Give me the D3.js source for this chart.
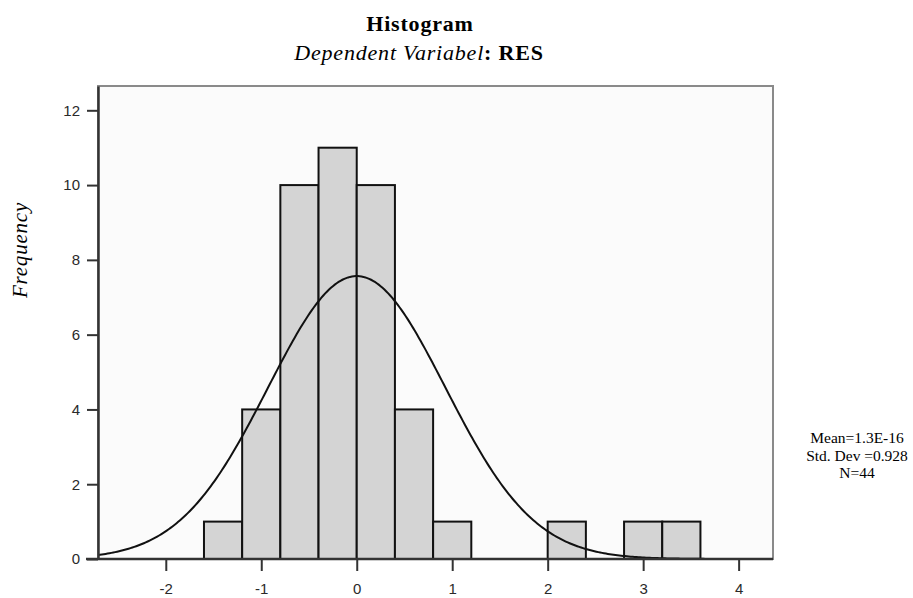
<!DOCTYPE html>
<html>
<head>
<meta charset="utf-8">
<script src="https://d3js.org/d3.v7.min.js"></script>
<style>
  body { margin: 0; background: #fff; }
  svg { display: block; }
  .tick text { font-family: "Liberation Sans", Arial, sans-serif; font-size: 15px; fill: #2a2a2a; }
  .serif { font-family: "Liberation Serif", "Times New Roman", serif; fill: #000; }
</style>
</head>
<body>
<svg id="chart" width="913" height="598"></svg>
<script>
// histogram bins (lower edge, upper edge, count)
const binStart = [-1.6, -1.2, -0.8, -0.4, 0.0, 0.4, 0.8, 2.0, 2.8, 3.2];
const binEnd   = [-1.2, -0.8, -0.4, 0.0, 0.4, 0.8, 1.2, 2.4, 3.2, 3.6];
const counts   = [1, 4, 10, 11, 10, 4, 1, 1, 1, 1];

const xTicks = [-2, -1, 0, 1, 2, 3, 4];
const yTicks = [0, 2, 4, 6, 8, 10, 12];

// summary stats shown in the side legend, used for the normal curve
const mean = 1.3e-16, stdDev = 0.928, nObs = 44, binWidth = 0.4;
const statLines = ['Mean=1.3E-16', 'Std. Dev =0.928', 'N=44'];

(function(){
  const svg = d3.select('#chart');
  const margin = { left: 98, top: 86, right: 913 - 773, bottom: 598 - 559 };
  const innerW = 913 - margin.left - margin.right;
  const innerH = 598 - margin.top - margin.bottom;

  const x = d3.scaleLinear().domain([-2.71, 4.36]).range([0, innerW]);
  const y = d3.scaleLinear().domain([0, 12.65]).range([innerH, 0]);

  const g = svg.append('g').attr('transform', `translate(${margin.left},${margin.top})`);

  // plot background + light frame (top/right)
  g.append('rect')
    .attr('x', 0).attr('y', 0).attr('width', innerW).attr('height', innerH)
    .attr('fill', '#fbfbfb').attr('stroke', '#8a8a8a').attr('stroke-width', 2);

  // bars
  g.append('g').selectAll('rect').data(counts).enter()
    .append('rect')
    .attr('x', (d,i) => x(binStart[i]))
    .attr('width', (d,i) => x(binEnd[i]) - x(binStart[i]))
    .attr('y', d => y(d))
    .attr('height', d => y(0) - y(d))
    .attr('fill', '#d4d4d4')
    .attr('stroke', '#111')
    .attr('stroke-width', 2);

  // normal curve from the summary stats
  const scale = nObs * binWidth / (stdDev * Math.sqrt(2 * Math.PI));
  const curvePts = d3.range(x.domain()[0], x.domain()[1] + 0.001, 0.02)
    .map(v => ({ x: v, y: scale * Math.exp(-0.5 * Math.pow((v - mean) / stdDev, 2)) }));
  g.append('path')
    .datum(curvePts)
    .attr('fill', 'none')
    .attr('stroke', '#111')
    .attr('stroke-width', 2)
    .attr('d', d3.line().x(d => x(d.x)).y(d => y(d.y)));

  // axes
  const fmt = d => String(d); // plain hyphen minus, like the original
  const xAxis = g.append('g').attr('transform', `translate(0,${innerH})`)
    .call(d3.axisBottom(x).tickValues(xTicks).tickFormat(fmt).tickSize(12).tickPadding(12).tickSizeOuter(0));
  const yAxis = g.append('g')
    .call(d3.axisLeft(y).tickValues(yTicks).tickFormat(fmt).tickSize(11).tickPadding(7).tickSizeOuter(0));
  [xAxis, yAxis].forEach(a => {
    a.select('.domain').attr('stroke', '#333').attr('stroke-width', 2.5);
    a.selectAll('.tick line').attr('stroke', '#333').attr('stroke-width', 2);
  });
  xAxis.selectAll('.tick line').attr('y1', 1);
  xAxis.select('.domain').attr('d', `M-12,0H${innerW}`);

  // titles
  svg.append('text').attr('class', 'serif')
    .attr('x', 420).attr('y', 31).attr('text-anchor', 'middle')
    .style('font-size', '22px').style('font-weight', 'bold').style('letter-spacing', '0.8px')
    .text('Histogram');
  const sub = svg.append('text').attr('class', 'serif')
    .attr('x', 419).attr('y', 60).attr('text-anchor', 'middle')
    .style('font-size', '22px').style('letter-spacing', '0.8px');
  sub.append('tspan').style('font-style', 'italic').text('Dependent Variabel');
  sub.append('tspan').style('font-weight', 'bold').text(': RES');

  // y label
  svg.append('text').attr('class', 'serif')
    .attr('transform', 'translate(27,250) rotate(-90)')
    .attr('text-anchor', 'middle')
    .style('font-size', '21px').style('font-style', 'italic').style('letter-spacing', '0.8px')
    .text('Frequency');

  // stats legend
  svg.append('g').selectAll('text').data(statLines).enter()
    .append('text').attr('class', 'serif')
    .attr('x', 857).attr('y', (d,i) => 443 + i * 17.5)
    .attr('text-anchor', 'middle')
    .style('font-size', '15.5px')
    .text(d => d);
})();
</script>
</body>
</html>
